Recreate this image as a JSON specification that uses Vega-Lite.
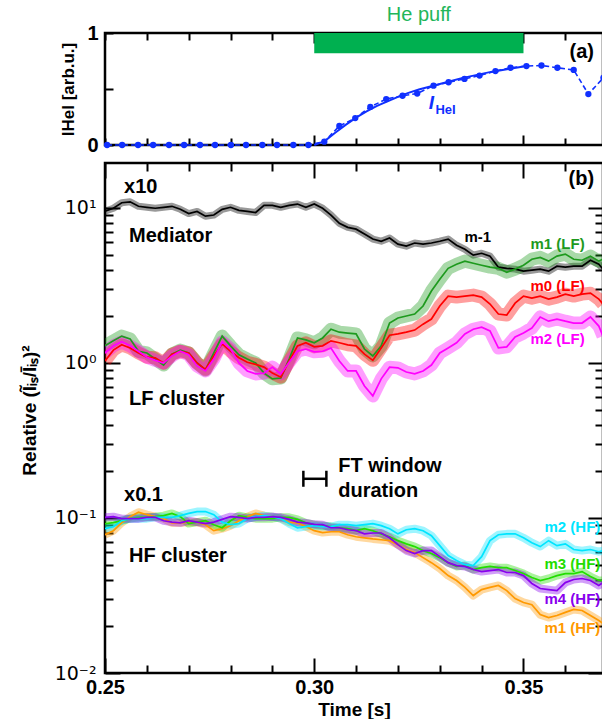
{
  "$schema": "https://vega.github.io/schema/vega-lite/v6.json",
  "padding": {"left": 18, "top": 3, "right": 0, "bottom": 0},
  "spacing": 3,
  "config": {
    "font": "Liberation Sans",
    "view": {"stroke": "black", "strokeWidth": 2.5},
    "axis": {"domain": false, "grid": false, "ticks": true, "tickColor": "black", "tickOpacity": 1, "tickWidth": 2, "labelColor": "black", "titleColor": "black", "zindex": 1}
  },
  "datasets": {
    "dots": [
      {"t":0.2505,"v":0},{"t":0.2541,"v":0},{"t":0.2579,"v":0},{"t":0.2615,"v":0},{"t":0.2653,"v":0},{"t":0.2689,"v":0},{"t":0.2727,"v":0},{"t":0.2763,"v":0},{"t":0.2801,"v":0},{"t":0.2837,"v":0},{"t":0.2876,"v":0},{"t":0.2911,"v":0},{"t":0.2950,"v":0},{"t":0.2986,"v":0},{"t":0.3024,"v":0.03},{"t":0.3060,"v":0.17},{"t":0.3098,"v":0.24},{"t":0.3134,"v":0.34},{"t":0.3172,"v":0.41},{"t":0.3211,"v":0.44},{"t":0.3246,"v":0.46},{"t":0.3285,"v":0.53},{"t":0.3321,"v":0.56},{"t":0.3359,"v":0.59},{"t":0.3395,"v":0.62},{"t":0.3433,"v":0.66},{"t":0.3469,"v":0.69},{"t":0.3507,"v":0.705},{"t":0.3543,"v":0.71},{"t":0.3581,"v":0.69},{"t":0.3620,"v":0.67},{"t":0.3655,"v":0.455},{"t":0.3691,"v":0.60}
    ],
    "fit": [
      {"t":0.300,"v":0},{"t":0.3025,"v":0.035},{"t":0.305,"v":0.11},{"t":0.3075,"v":0.18},{"t":0.310,"v":0.245},{"t":0.3125,"v":0.30},{"t":0.315,"v":0.35},{"t":0.3175,"v":0.39},{"t":0.320,"v":0.43},{"t":0.3225,"v":0.465},{"t":0.325,"v":0.495},{"t":0.3275,"v":0.52},{"t":0.330,"v":0.545},{"t":0.3325,"v":0.57},{"t":0.335,"v":0.595},{"t":0.3375,"v":0.615},{"t":0.340,"v":0.635},{"t":0.3425,"v":0.655},{"t":0.345,"v":0.67},{"t":0.3475,"v":0.685},{"t":0.350,"v":0.70}
    ],
    "puff": [{"t":0.30,"t2":0.35,"v":0.82,"v2":1.0}],
    "vgrid": [{"t":0.30},{"t":0.35}],
    "hgrid": [{"v":0.1},{"v":1},{"v":10}],
    "labelsA": [
      {"t":0.325,"v":1.161,"label":"He puff","kind":"puff"},
      {"t":0.3610,"v":0.83,"label":"(a)","kind":"panel"},
      {"t":0.32799,"v":0.375,"label":"I","kind":"I"},
      {"t":0.32895,"v":0.3125,"label":"HeI","kind":"sub"}
    ],
    "lines": [
      {"t":0.250,"Mediator":9.52,"m1LF":1.29,"m0LF":1.03,"m2LF":1.16,"m2HF":0.0853,"m3HF":0.0918,"m4HF":0.101,"m1HF":0.078},
      {"t":0.252,"Mediator":9.96,"m1LF":1.39,"m0LF":1.21,"m2LF":1.29,"m2HF":0.088,"m3HF":0.0933,"m4HF":0.102,"m1HF":0.0828},
      {"t":0.254,"Mediator":10.8,"m1LF":1.49,"m0LF":1.31,"m2LF":1.37,"m2HF":0.0961,"m3HF":0.0961,"m4HF":0.099,"m1HF":0.0933},
      {"t":0.256,"Mediator":10.95,"m1LF":1.43,"m0LF":1.25,"m2LF":1.29,"m2HF":0.099,"m3HF":0.099,"m4HF":0.099,"m1HF":0.102},
      {"t":0.258,"Mediator":10.25,"m1LF":1.19,"m0LF":1.16,"m2LF":1.19,"m2HF":0.099,"m3HF":0.101,"m4HF":0.099,"m1HF":0.109},
      {"t":0.260,"Mediator":10.1,"m1LF":1.16,"m0LF":1.09,"m2LF":1.09,"m2HF":0.099,"m3HF":0.101,"m4HF":0.101,"m1HF":0.105},
      {"t":0.262,"Mediator":9.96,"m1LF":1.06,"m0LF":1.08,"m2LF":1.04,"m2HF":0.101,"m3HF":0.102,"m4HF":0.101,"m1HF":0.102},
      {"t":0.264,"Mediator":10.1,"m1LF":0.97,"m0LF":1.0,"m2LF":1.0,"m2HF":0.101,"m3HF":0.1035,"m4HF":0.096,"m1HF":0.099},
      {"t":0.266,"Mediator":10.25,"m1LF":1.14,"m0LF":1.14,"m2LF":1.11,"m2HF":0.101,"m3HF":0.107,"m4HF":0.094,"m1HF":0.093},
      {"t":0.268,"Mediator":9.8,"m1LF":1.21,"m0LF":1.19,"m2LF":1.19,"m2HF":0.1035,"m3HF":0.102,"m4HF":0.093,"m1HF":0.093},
      {"t":0.270,"Mediator":9.2,"m1LF":1.16,"m0LF":1.16,"m2LF":1.13,"m2HF":0.107,"m3HF":0.092,"m4HF":0.096,"m1HF":0.094},
      {"t":0.272,"Mediator":9.5,"m1LF":1.0,"m0LF":1.0,"m2LF":0.957,"m2HF":0.110,"m3HF":0.094,"m4HF":0.094,"m1HF":0.094},
      {"t":0.274,"Mediator":8.85,"m1LF":0.90,"m0LF":0.91,"m2LF":0.888,"m2HF":0.110,"m3HF":0.096,"m4HF":0.092,"m1HF":0.0905},
      {"t":0.276,"Mediator":9.0,"m1LF":1.16,"m0LF":1.11,"m2LF":1.06,"m2HF":0.105,"m3HF":0.0905,"m4HF":0.094,"m1HF":0.0828},
      {"t":0.278,"Mediator":9.8,"m1LF":1.49,"m0LF":1.33,"m2LF":1.37,"m2HF":0.094,"m3HF":0.0865,"m4HF":0.098,"m1HF":0.0853},
      {"t":0.280,"Mediator":10.1,"m1LF":1.29,"m0LF":1.19,"m2LF":1.23,"m2HF":0.0905,"m3HF":0.096,"m4HF":0.102,"m1HF":0.0892},
      {"t":0.282,"Mediator":9.65,"m1LF":1.13,"m0LF":1.08,"m2LF":1.0,"m2HF":0.092,"m3HF":0.1035,"m4HF":0.101,"m1HF":0.0961},
      {"t":0.284,"Mediator":9.5,"m1LF":1.06,"m0LF":1.01,"m2LF":0.888,"m2HF":0.099,"m3HF":0.101,"m4HF":0.099,"m1HF":0.102},
      {"t":0.286,"Mediator":9.35,"m1LF":1.0,"m0LF":0.98,"m2LF":0.85,"m2HF":0.102,"m3HF":0.099,"m4HF":0.101,"m1HF":0.107},
      {"t":0.288,"Mediator":10.4,"m1LF":0.86,"m0LF":0.94,"m2LF":0.86,"m2HF":0.1035,"m3HF":0.099,"m4HF":0.101,"m1HF":0.1035},
      {"t":0.290,"Mediator":10.4,"m1LF":0.79,"m0LF":0.86,"m2LF":0.94,"m2HF":0.102,"m3HF":0.099,"m4HF":0.102,"m1HF":0.102},
      {"t":0.292,"Mediator":10.1,"m1LF":0.80,"m0LF":0.81,"m2LF":0.85,"m2HF":0.099,"m3HF":0.101,"m4HF":0.101,"m1HF":0.099},
      {"t":0.294,"Mediator":10.4,"m1LF":1.06,"m0LF":1.03,"m2LF":1.01,"m2HF":0.092,"m3HF":0.101,"m4HF":0.098,"m1HF":0.094},
      {"t":0.296,"Mediator":10.6,"m1LF":1.45,"m0LF":1.29,"m2LF":1.19,"m2HF":0.0865,"m3HF":0.098,"m4HF":0.094,"m1HF":0.093},
      {"t":0.298,"Mediator":10.1,"m1LF":1.41,"m0LF":1.35,"m2LF":1.23,"m2HF":0.088,"m3HF":0.093,"m4HF":0.093,"m1HF":0.088},
      {"t":0.300,"Mediator":10.6,"m1LF":1.35,"m0LF":1.27,"m2LF":1.18,"m2HF":0.0892,"m3HF":0.0905,"m4HF":0.091,"m1HF":0.0828},
      {"t":0.302,"Mediator":9.96,"m1LF":1.45,"m0LF":1.29,"m2LF":1.19,"m2HF":0.088,"m3HF":0.0892,"m4HF":0.0905,"m1HF":0.0805},
      {"t":0.304,"Mediator":9.0,"m1LF":1.65,"m0LF":1.39,"m2LF":1.25,"m2HF":0.088,"m3HF":0.088,"m4HF":0.0865,"m1HF":0.0815},
      {"t":0.306,"Mediator":7.97,"m1LF":1.58,"m0LF":1.35,"m2LF":1.03,"m2HF":0.0905,"m3HF":0.0865,"m4HF":0.0865,"m1HF":0.0815},
      {"t":0.308,"Mediator":7.5,"m1LF":1.56,"m0LF":1.31,"m2LF":0.888,"m2HF":0.0905,"m3HF":0.0853,"m4HF":0.084,"m1HF":0.078},
      {"t":0.310,"Mediator":7.3,"m1LF":1.54,"m0LF":1.29,"m2LF":0.888,"m2HF":0.0892,"m3HF":0.0828,"m4HF":0.0828,"m1HF":0.0757},
      {"t":0.312,"Mediator":6.8,"m1LF":1.23,"m0LF":1.14,"m2LF":0.711,"m2HF":0.0905,"m3HF":0.0853,"m4HF":0.079,"m1HF":0.0745},
      {"t":0.314,"Mediator":6.3,"m1LF":1.11,"m0LF":1.04,"m2LF":0.613,"m2HF":0.092,"m3HF":0.0828,"m4HF":0.08,"m1HF":0.0733},
      {"t":0.316,"Mediator":6.1,"m1LF":1.29,"m0LF":1.25,"m2LF":0.79,"m2HF":0.0892,"m3HF":0.079,"m4HF":0.08,"m1HF":0.0724},
      {"t":0.318,"Mediator":6.4,"m1LF":1.81,"m0LF":1.51,"m2LF":0.94,"m2HF":0.0853,"m3HF":0.0757,"m4HF":0.0745,"m1HF":0.0714},
      {"t":0.320,"Mediator":5.84,"m1LF":1.95,"m0LF":1.54,"m2LF":0.93,"m2HF":0.079,"m3HF":0.0714,"m4HF":0.0673,"m1HF":0.0673},
      {"t":0.322,"Mediator":5.67,"m1LF":2.01,"m0LF":1.58,"m2LF":0.875,"m2HF":0.084,"m3HF":0.0681,"m4HF":0.0616,"m1HF":0.0626},
      {"t":0.324,"Mediator":5.94,"m1LF":2.07,"m0LF":1.63,"m2LF":0.85,"m2HF":0.0853,"m3HF":0.0654,"m4HF":0.059,"m1HF":0.0598},
      {"t":0.326,"Mediator":5.84,"m1LF":2.33,"m0LF":1.78,"m2LF":0.888,"m2HF":0.0828,"m3HF":0.0616,"m4HF":0.0616,"m1HF":0.0555},
      {"t":0.328,"Mediator":5.94,"m1LF":2.91,"m0LF":1.92,"m2LF":0.97,"m2HF":0.0769,"m3HF":0.059,"m4HF":0.0616,"m1HF":0.0515},
      {"t":0.330,"Mediator":6.1,"m1LF":3.47,"m0LF":2.33,"m2LF":1.16,"m2HF":0.0663,"m3HF":0.0555,"m4HF":0.0563,"m1HF":0.0472},
      {"t":0.332,"Mediator":6.3,"m1LF":4.08,"m0LF":2.70,"m2LF":1.25,"m2HF":0.0572,"m3HF":0.0515,"m4HF":0.0515,"m1HF":0.0425},
      {"t":0.334,"Mediator":5.75,"m1LF":4.33,"m0LF":2.66,"m2LF":1.35,"m2HF":0.0531,"m3HF":0.0487,"m4HF":0.0493,"m1HF":0.0395},
      {"t":0.336,"Mediator":5.41,"m1LF":4.54,"m0LF":2.70,"m2LF":1.54,"m2HF":0.05,"m3HF":0.0493,"m4HF":0.0487,"m1HF":0.0357},
      {"t":0.338,"Mediator":4.96,"m1LF":4.4,"m0LF":2.74,"m2LF":1.65,"m2HF":0.0493,"m3HF":0.0465,"m4HF":0.0465,"m1HF":0.0316},
      {"t":0.340,"Mediator":5.1,"m1LF":4.27,"m0LF":2.66,"m2LF":1.70,"m2HF":0.0563,"m3HF":0.0478,"m4HF":0.0451,"m1HF":0.0345},
      {"t":0.342,"Mediator":4.89,"m1LF":4.15,"m0LF":2.40,"m2LF":1.61,"m2HF":0.0714,"m3HF":0.0487,"m4HF":0.0458,"m1HF":0.0357},
      {"t":0.344,"Mediator":4.15,"m1LF":4.08,"m0LF":2.07,"m2LF":1.25,"m2HF":0.078,"m3HF":0.0478,"m4HF":0.0465,"m1HF":0.0367},
      {"t":0.346,"Mediator":4.08,"m1LF":3.85,"m0LF":2.04,"m2LF":1.27,"m2HF":0.079,"m3HF":0.0478,"m4HF":0.0445,"m1HF":0.034},
      {"t":0.348,"Mediator":4.03,"m1LF":4.03,"m0LF":2.43,"m2LF":1.47,"m2HF":0.079,"m3HF":0.0458,"m4HF":0.0445,"m1HF":0.0302},
      {"t":0.350,"Mediator":3.91,"m1LF":4.27,"m0LF":2.70,"m2LF":1.56,"m2HF":0.0745,"m3HF":0.0438,"m4HF":0.0425,"m1HF":0.0285},
      {"t":0.352,"Mediator":3.97,"m1LF":4.67,"m0LF":2.62,"m2LF":1.68,"m2HF":0.0693,"m3HF":0.0413,"m4HF":0.0378,"m1HF":0.0276},
      {"t":0.354,"Mediator":4.03,"m1LF":4.8,"m0LF":2.70,"m2LF":1.98,"m2HF":0.0654,"m3HF":0.0395,"m4HF":0.0351,"m1HF":0.0238},
      {"t":0.356,"Mediator":3.91,"m1LF":4.54,"m0LF":2.58,"m2LF":1.86,"m2HF":0.0714,"m3HF":0.0407,"m4HF":0.0345,"m1HF":0.0228},
      {"t":0.358,"Mediator":4.21,"m1LF":4.89,"m0LF":2.66,"m2LF":1.92,"m2HF":0.0663,"m3HF":0.0425,"m4HF":0.034,"m1HF":0.0235},
      {"t":0.360,"Mediator":4.15,"m1LF":5.04,"m0LF":2.78,"m2LF":1.86,"m2HF":0.0681,"m3HF":0.0438,"m4HF":0.0383,"m1HF":0.0246},
      {"t":0.362,"Mediator":4.21,"m1LF":4.67,"m0LF":2.70,"m2LF":1.81,"m2HF":0.0626,"m3HF":0.0438,"m4HF":0.0401,"m1HF":0.0257},
      {"t":0.364,"Mediator":4.21,"m1LF":4.6,"m0LF":2.78,"m2LF":1.81,"m2HF":0.0616,"m3HF":0.0451,"m4HF":0.0407,"m1HF":0.0253},
      {"t":0.366,"Mediator":4.6,"m1LF":4.89,"m0LF":2.82,"m2LF":1.98,"m2HF":0.0626,"m3HF":0.0419,"m4HF":0.0395,"m1HF":0.0235},
      {"t":0.368,"Mediator":4.33,"m1LF":4.54,"m0LF":2.58,"m2LF":1.73,"m2HF":0.0606,"m3HF":0.0395,"m4HF":0.0367,"m1HF":0.0218},
      {"t":0.369,"Mediator":4.03,"m1LF":4.67,"m0LF":2.40,"m2LF":1.49,"m2HF":0.0616,"m3HF":0.0395,"m4HF":0.0383,"m1HF":0.0209}
    ],
    "blackLabels": [
      {"t":0.25455,"v":13.6,"label":"x10"},
      {"t":0.25574,"v":6.57,"label":"Mediator"},
      {"t":0.25574,"v":0.586,"label":"LF cluster"},
      {"t":0.25455,"v":0.141,"label":"x0.1"},
      {"t":0.25574,"v":0.0572,"label":"HF cluster"},
      {"t":0.30574,"v":0.217,"label":"FT window"},
      {"t":0.30574,"v":0.150,"label":"duration"},
      {"t":0.36077,"v":15.3,"label":"(b)"}
    ],
    "seriesLabels": [
      {"s":"Mediator","t":0.33589,"v":6.48,"label":"m-1"},
      {"s":"m1LF","t":0.35167,"v":5.84,"label":"m1 (LF)"},
      {"s":"m0LF","t":0.35167,"v":3.13,"label":"m0 (LF)"},
      {"s":"m2LF","t":0.35167,"v":1.43,"label":"m2 (LF)"},
      {"s":"m2HF","t":0.35502,"v":0.0879,"label":"m2 (HF)"},
      {"s":"m3HF","t":0.35502,"v":0.0508,"label":"m3 (HF)"},
      {"s":"m4HF","t":0.35502,"v":0.0302,"label":"m4 (HF)"},
      {"s":"m1HF","t":0.35502,"v":0.0194,"label":"m1 (HF)"}
    ],
    "ft": [{"t":0.2974,"t2":0.3029,"v":0.179,"lo":0.159,"hi":0.2017}]
  },
  "vconcat": [
    {
      "width": 498,
      "height": 112,
      "resolve": {"axis": {"x": "independent"}},
      "layer": [
        {
          "encoding": {
            "x": {"field": "t", "type": "quantitative",
              "scale": {"domain": [0.25, 0.369], "nice": false, "zero": false},
              "axis": {"orient": "bottom", "title": null, "labels": false, "grid": false,
                "values": [0.25,0.26,0.27,0.28,0.29,0.30,0.31,0.32,0.33,0.34,0.35,0.36],
                "tickSize": -10,
                "tickDash": {"condition": {"test": "abs(datum.value-0.3)<0.001 || abs(datum.value-0.35)<0.001", "value": [100, 0]}, "value": [7, 100]}}},
            "y": {"field": "v", "type": "quantitative",
              "scale": {"domain": [0, 1], "nice": false},
              "axis": {"values": [0, 0.5, 1], "grid": false, "tickSize": -8, "labelPadding": 15,
                "labelExpr": "datum.value == 0.5 ? '' : format(datum.value, 'd')",
                "labelFontWeight": "bold", "labelFontSize": 20,
                "title": "IHeI [arb.u.]", "titleFontSize": 17, "titleFontWeight": "bold",
                "titleX": -37, "titleBaseline": "middle"}}
          },
          "layer": [
            {"data": {"name": "vgrid"}, "mark": {"type": "rule", "color": "#b5b5b5", "strokeWidth": 1.5}},
            {"data": {"name": "puff"}, "mark": {"type": "rect", "color": "#00b050"},
              "encoding": {"x2": {"field": "t2"}, "y2": {"field": "v2"}}},
            {"data": {"name": "dots"}, "mark": {"type": "line", "color": "#1030ff", "strokeWidth": 1.6, "strokeDash": [5, 3]}, "encoding": {}},
            {"data": {"name": "fit"}, "mark": {"type": "line", "color": "#1030ff", "strokeWidth": 2}, "encoding": {}},
            {"data": {"name": "dots"}, "mark": {"type": "point", "filled": true, "opacity": 1, "color": "#1030ff", "size": 40}},
            {"data": {"name": "labelsA"}, "transform": [{"filter": "datum.kind == 'puff'"}],
              "mark": {"type": "text", "color": "#22b65a", "fontSize": 20, "align": "center", "baseline": "middle"},
              "encoding": {"text": {"field": "label"}}},
            {"data": {"name": "labelsA"}, "transform": [{"filter": "datum.kind == 'panel'"}],
              "mark": {"type": "text", "color": "black", "fontSize": 20, "fontWeight": "bold", "align": "left", "baseline": "middle"},
              "encoding": {"text": {"field": "label"}}},
            {"data": {"name": "labelsA"}, "transform": [{"filter": "datum.kind == 'I'"}],
              "mark": {"type": "text", "color": "#1030ff", "fontSize": 19, "fontWeight": "bold", "fontStyle": "italic", "align": "center", "baseline": "middle"},
              "encoding": {"text": {"field": "label"}}},
            {"data": {"name": "labelsA"}, "transform": [{"filter": "datum.kind == 'sub'"}],
              "mark": {"type": "text", "color": "#1030ff", "fontSize": 13, "fontWeight": "bold", "align": "left", "baseline": "middle"},
              "encoding": {"text": {"field": "label"}}}
          ]
        },
        {
          "data": {"name": "puff"},
          "mark": {"type": "point", "opacity": 0},
          "encoding": {
            "x": {"field": "t", "type": "quantitative",
              "scale": {"domain": [0.25, 0.369], "nice": false, "zero": false},
              "axis": {"orient": "top", "title": null, "labels": false, "grid": false,
                "values": [0.25,0.26,0.27,0.28,0.29,0.30,0.31,0.32,0.33,0.34,0.35,0.36],
                "tickSize": -10,
                "tickDash": {"condition": {"test": "abs(datum.value-0.3)<0.001 || abs(datum.value-0.35)<0.001", "value": [100, 0]}, "value": [7, 100]}}}
          }
        }
      ]
    },
    {
      "width": 498,
      "height": 510,
      "resolve": {"axis": {"x": "independent", "y": "independent"}},
      "layer": [
        {
          "encoding": {
            "x": {"field": "t", "type": "quantitative",
              "scale": {"domain": [0.25, 0.369], "nice": false, "zero": false},
              "axis": {"orient": "bottom", "title": "Time [s]", "grid": false,
                "values": [0.25,0.26,0.27,0.28,0.29,0.30,0.31,0.32,0.33,0.34,0.35,0.36],
                "labelExpr": "(abs(datum.value-0.25)<0.001 || abs(datum.value-0.3)<0.001 || abs(datum.value-0.35)<0.001) ? format(datum.value, '.2f') : ''",
                "tickSize": -15,
                "tickDash": {"condition": {"test": "abs(datum.value-0.25)<0.001 || abs(datum.value-0.3)<0.001 || abs(datum.value-0.35)<0.001", "value": [100, 0]}, "value": [8, 100]},
                "labelPadding": 19, "labelFontSize": 20, "labelFontWeight": "bold", "labelFlush": false,
                "titleFontSize": 19, "titleFontWeight": "bold", "titleY": 27, "titleBaseline": "top"}},
            "y": {"field": "v", "type": "quantitative",
              "scale": {"type": "log", "domain": [0.01, 19.5], "nice": false},
              "axis": {"orient": "left", "grid": false,
                "values": [0.01,0.02,0.03,0.04,0.05,0.06,0.07,0.08,0.09,0.1,0.2,0.3,0.4,0.5,0.6,0.7,0.8,0.9,1,2,3,4,5,6,7,8,9,10],
                "labelExpr": "abs(datum.value-10)<0.01 ? '10\u00b9' : abs(datum.value-1)<0.001 ? '10\u2070' : abs(datum.value-0.1)<0.0001 ? '10\u207b\u00b9' : abs(datum.value-0.01)<0.00001 ? '10\u207b\u00b2' : ''",
                "tickSize": -15,
                "tickDash": {"condition": {"test": "abs(log(datum.value)/LN10 - round(log(datum.value)/LN10)) < 0.001", "value": [100, 0]}, "value": [8, 100]},
                "labelPadding": 24, "labelFont": "DejaVu Sans", "labelFontSize": 19,
                "title": "Relative (\u0128\u1d62\u209b/\u012a\u1d62\u209b)\u00b2", "titleFontSize": 19, "titleFontWeight": "bold",
                "titleX": -76, "titleY": 247, "titleBaseline": "middle"}}
          },
          "layer": [
            {"data": {"name": "vgrid"}, "mark": {"type": "rule", "color": "#b5b5b5", "strokeWidth": 1.5}},
            {"data": {"name": "hgrid"}, "mark": {"type": "rule", "color": "#b5b5b5", "strokeWidth": 1.5}},
            {"data": {"name": "lines"},
              "transform": [{"fold": ["Mediator","m1LF","m0LF","m2LF","m1HF","m3HF","m2HF","m4HF"], "as": ["s","v"]}, {"filter": "datum.s == 'Mediator'"}],
              "mark": {"type": "line", "strokeWidth": 7, "opacity": 0.4, "clip": true, "strokeJoin": "round"},
              "encoding": {"color": {"field": "s", "type": "nominal", "legend": null,
                "scale": {"domain": ["Mediator","m1LF","m0LF","m2LF","m1HF","m3HF","m2HF","m4HF"], "range": ["#000000","#1e9a1e","#ff0000","#ff00ff","#ff9900","#22dd00","#00e5ff","#8800ee"]}}}},
            {"data": {"name": "lines"},
              "transform": [{"fold": ["Mediator","m1LF","m0LF","m2LF","m1HF","m3HF","m2HF","m4HF"], "as": ["s","v"]}, {"filter": "datum.s == 'm1LF' || datum.s == 'm0LF' || datum.s == 'm2LF'"}],
              "mark": {"type": "line", "strokeWidth": 13, "opacity": 0.38, "clip": true, "strokeJoin": "round"},
              "encoding": {"color": {"field": "s", "type": "nominal", "legend": null}}},
            {"data": {"name": "lines"},
              "transform": [{"fold": ["Mediator","m1LF","m0LF","m2LF","m1HF","m3HF","m2HF","m4HF"], "as": ["s","v"]}, {"filter": "datum.s == 'm1HF' || datum.s == 'm3HF' || datum.s == 'm2HF' || datum.s == 'm4HF'"}],
              "mark": {"type": "line", "strokeWidth": 8, "opacity": 0.38, "clip": true, "strokeJoin": "round"},
              "encoding": {"color": {"field": "s", "type": "nominal", "legend": null}}},
            {"data": {"name": "lines"},
              "transform": [{"fold": ["Mediator","m1LF","m0LF","m2LF","m1HF","m3HF","m2HF","m4HF"], "as": ["s","v"]}],
              "mark": {"type": "line", "strokeWidth": 1.7, "clip": true},
              "encoding": {"color": {"field": "s", "type": "nominal", "legend": null}}},
            {"data": {"name": "ft"}, "mark": {"type": "rule", "color": "black", "strokeWidth": 2.5},
              "encoding": {"x2": {"field": "t2"}}},
            {"data": {"name": "ft"}, "mark": {"type": "rule", "color": "black", "strokeWidth": 2.5},
              "encoding": {"y": {"field": "lo", "type": "quantitative"}, "y2": {"field": "hi"}}},
            {"data": {"name": "ft"}, "mark": {"type": "rule", "color": "black", "strokeWidth": 2.5},
              "encoding": {"x": {"field": "t2", "type": "quantitative"}, "y": {"field": "lo", "type": "quantitative"}, "y2": {"field": "hi"}}},
            {"data": {"name": "blackLabels"},
              "mark": {"type": "text", "color": "black", "fontSize": 20, "fontWeight": "bold", "align": "left", "baseline": "middle"},
              "encoding": {"text": {"field": "label"}}},
            {"data": {"name": "seriesLabels"},
              "mark": {"type": "text", "fontSize": 15, "fontWeight": "bold", "align": "left", "baseline": "middle"},
              "encoding": {"text": {"field": "label"}, "color": {"field": "s", "type": "nominal", "legend": null}}}
          ]
        },
        {
          "data": {"name": "ft"},
          "mark": {"type": "point", "opacity": 0},
          "encoding": {
            "x": {"field": "t", "type": "quantitative",
              "scale": {"domain": [0.25, 0.369], "nice": false, "zero": false},
              "axis": {"orient": "top", "title": null, "labels": false, "grid": false,
                "values": [0.25,0.26,0.27,0.28,0.29,0.30,0.31,0.32,0.33,0.34,0.35,0.36],
                "tickSize": -15,
                "tickDash": {"condition": {"test": "abs(datum.value-0.25)<0.001 || abs(datum.value-0.3)<0.001 || abs(datum.value-0.35)<0.001", "value": [100, 0]}, "value": [8, 100]}}},
            "y": {"field": "v", "type": "quantitative",
              "scale": {"type": "log", "domain": [0.01, 19.5], "nice": false},
              "axis": {"orient": "right", "title": null, "labels": false, "grid": false,
                "values": [0.01,0.02,0.03,0.04,0.05,0.06,0.07,0.08,0.09,0.1,0.2,0.3,0.4,0.5,0.6,0.7,0.8,0.9,1,2,3,4,5,6,7,8,9,10],
                "tickSize": -15,
                "tickDash": {"condition": {"test": "abs(log(datum.value)/LN10 - round(log(datum.value)/LN10)) < 0.001", "value": [100, 0]}, "value": [8, 100]}}}
          }
        }
      ]
    }
  ]
}
